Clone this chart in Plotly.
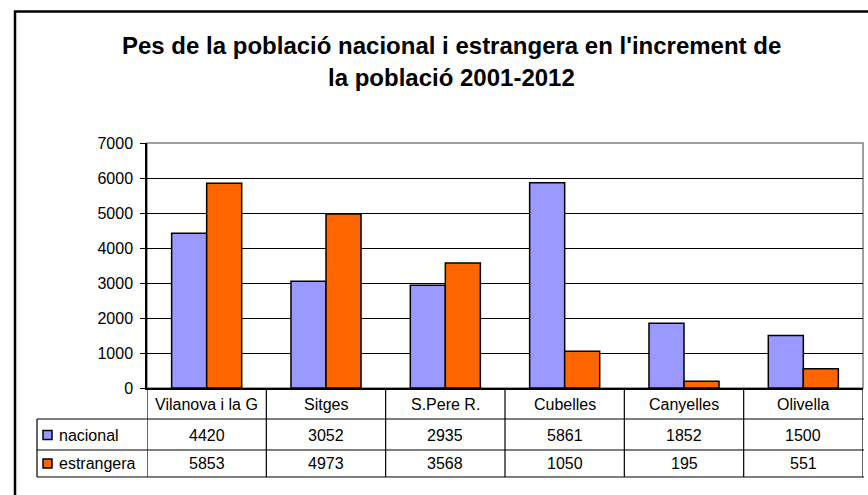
import plotly.graph_objects as go

categories = ["Vilanova i la G", "Sitges", "S.Pere R.", "Cubelles", "Canyelles", "Olivella"]
nacional = [4420, 3052, 2935, 5861, 1852, 1500]
estrangera = [5853, 4973, 3568, 1050, 195, 551]
series_names = ["nacional", "estrangera"]
series_colors = ["#9999FF", "#FF6600"]
title_lines = ["Pes de la població nacional i estrangera en l'increment de", "la població 2001-2012"]

W, H = 868, 495
L, R, T, B = 147, 863, 143, 388  # plot area in window pixels
FONT = "Liberation Sans, Arial, sans-serif"


def px_x(px):
    return (px - L) / (R - L)


def px_y(py):
    return (B - py) / (B - T)


fig = go.Figure()
for name, vals, col in zip(series_names, [nacional, estrangera], series_colors):
    fig.add_trace(
        go.Bar(
            x=categories,
            y=vals,
            name=name,
            marker=dict(color=col, line=dict(color="black", width=1.5)),
            showlegend=False,
        )
    )

shapes = []
# outer chart border
shapes.append(dict(type="rect", xref="paper", yref="paper",
                   x0=px_x(15), x1=px_x(920), y0=px_y(540), y1=px_y(11.5),
                   line=dict(color="black", width=2.5), layer="below"))
# plot area top/right border
shapes.append(dict(type="rect", xref="paper", yref="paper", x0=0, x1=1, y0=0, y1=1,
                   line=dict(color="#808080", width=1.5), layer="below"))

# data table lines
row_lines = [419, 450, 477]
for py in row_lines:
    shapes.append(dict(type="line", xref="paper", yref="paper",
                       x0=px_x(37), x1=px_x(864), y0=px_y(py), y1=px_y(py),
                       line=dict(color="black", width=1.2)))
shapes.append(dict(type="line", xref="paper", yref="paper",
                   x0=px_x(37), x1=px_x(37), y0=px_y(419), y1=px_y(477),
                   line=dict(color="black", width=1.2)))
for i in range(len(categories) + 1):
    shapes.append(dict(type="line", xref="x", yref="paper",
                       x0=i - 0.5, x1=i - 0.5, y0=px_y(388), y1=px_y(477),
                       line=dict(color="black", width=1.2)))

annotations = []
for line, ty in zip(title_lines, [45, 78]):
    annotations.append(dict(xref="paper", yref="paper", x=px_x(451), y=px_y(ty),
                            text="<b>%s</b>" % line, showarrow=False,
                            font=dict(family=FONT, size=24, color="black"),
                            xanchor="center", yanchor="middle"))

for i, cat in enumerate(categories):
    annotations.append(dict(xref="x", yref="paper", x=i, y=px_y(404), text=cat,
                            showarrow=False, xanchor="center", yanchor="middle",
                            font=dict(family=FONT, size=16, color="black")))

row_centers = [435, 463.5]
for name, vals, col, cy in zip(series_names, [nacional, estrangera], series_colors, row_centers):
    shapes.append(dict(type="rect", xref="paper", yref="paper",
                       x0=px_x(43), x1=px_x(52), y0=px_y(cy - 4.5), y1=px_y(cy + 4.5),
                       fillcolor=col, line=dict(color="black", width=1.5)))
    annotations.append(dict(xref="paper", yref="paper", x=px_x(57), y=px_y(cy), text=name,
                            showarrow=False, xanchor="left", yanchor="middle",
                            font=dict(family=FONT, size=16, color="black")))
    for i, v in enumerate(vals):
        annotations.append(dict(xref="x", yref="paper", x=i, y=px_y(cy), text=str(v),
                                showarrow=False, xanchor="center", yanchor="middle",
                                font=dict(family=FONT, size=16, color="black")))

fig.update_layout(
    width=W,
    height=H,
    margin=dict(l=L, r=W - R, t=T, b=H - B, pad=0),
    paper_bgcolor="white",
    plot_bgcolor="white",
    barmode="group",
    bargap=0.413,
    bargroupgap=0,
    font=dict(family=FONT, size=16, color="black"),
    xaxis=dict(range=[-0.5, 5.5], showticklabels=False, showgrid=False,
               showline=True, linecolor="black", linewidth=1.5, ticks="", zeroline=False),
    yaxis=dict(range=[0, 7000], dtick=1000, showgrid=True, gridcolor="black", gridwidth=1,
               showline=True, linecolor="black", linewidth=1.5, ticks="outside",
               ticklen=5, tickcolor="black", zeroline=False, ticklabelstandoff=4,
               tickfont=dict(family=FONT, size=16, color="black")),
    shapes=shapes,
    annotations=annotations,
)

# drop the browser's default body margin so the figure fills the window exactly
fig.write_html(
    "out.html",
    config={"displayModeBar": False},
    post_script="document.body.style.margin='0';document.body.style.overflow='hidden';",
)
